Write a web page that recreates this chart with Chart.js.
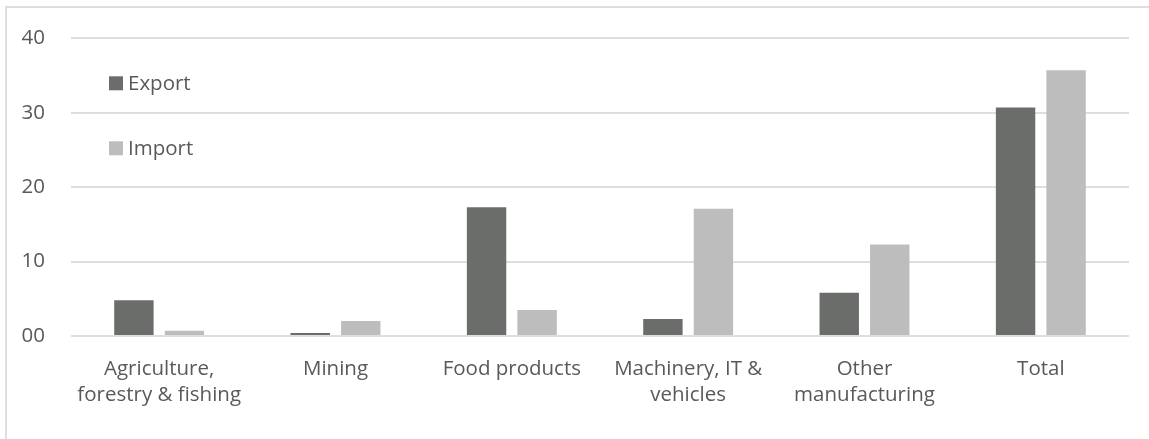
<!DOCTYPE html>
<html lang="en">
<head>
  <meta charset="UTF-8">
  <title>Export and import by sector</title>
  <script src="https://cdn.jsdelivr.net/npm/chart.js"></script>
  <style>
    html, body {
      margin: 0;
      padding: 0;
      overflow: hidden;
      background: #fff;
    }

    .frame {
      position: absolute;
      left: 5px;
      top: 6px;
      width: 1180px;
      height: 470px;
      border: 2px solid #dedede;
      box-sizing: border-box;
    }

    .wrap {
      position: absolute;
      left: 0;
      top: 0;
      width: 1149px;
      height: 439px;
    }
  </style>
</head>
<body>
  <div class="frame"></div>
  <div class="wrap">
    <canvas id="tradeChart"></canvas>
  </div>

  <script>
    const categories = [
      ['Agriculture,', 'forestry & fishing'],
      'Mining',
      'Food products',
      ['Machinery, IT &', 'vehicles'],
      ['Other', 'manufacturing'],
      'Total'
    ];
    const exportValues = [4.8, 0.4, 17.3, 2.3, 5.8, 30.7];
    const importValues = [0.7, 2.0, 3.5, 17.1, 12.3, 35.7];
    const yTickLabels = ['00', '10', '20', '30', '40'];

    const textColor = '#595959';
    const fontFamily = "'Open Sans', sans-serif";

    // legend sits inside the plot, stacked vertically at the top left
    const innerLegend = {
      id: 'innerLegend',
      afterDraw(chart) {
        const ctx = chart.ctx;
        const area = chart.chartArea;
        ctx.save();
        ctx.font = '20.5px ' + fontFamily;
        ctx.textBaseline = 'middle';
        chart.data.datasets.forEach((ds, i) => {
          const x = area.left + 38;
          const y = area.top + 45 + i * 65;
          ctx.fillStyle = ds.backgroundColor;
          ctx.fillRect(x, y - 7, 14, 14);
          ctx.fillStyle = textColor;
          ctx.fillText(ds.label, x + 19, y + 1);
        });
        ctx.restore();
      }
    };

    const ctx = document.getElementById('tradeChart').getContext('2d');

    new Chart(ctx, {
      type: 'bar',
      data: {
        labels: categories,
        datasets: [
          {
            label: 'Export',
            data: exportValues,
            backgroundColor: '#6b6d6b',
            categoryPercentage: 0.573,
            barPercentage: 0.78
          },
          {
            label: 'Import',
            data: importValues,
            backgroundColor: '#bdbdbd',
            categoryPercentage: 0.573,
            barPercentage: 0.78
          }
        ]
      },
      options: {
        responsive: true,
        maintainAspectRatio: false,
        animation: false,
        layout: {
          padding: { top: 37, right: 20, bottom: 0, left: 0 }
        },
        scales: {
          x: {
            grid: { display: false },
            border: { display: false },
            ticks: {
              color: textColor,
              padding: 12,
              maxRotation: 0,
              autoSkip: false,
              font: { family: fontFamily, size: 20.5, lineHeight: 1.27 }
            },
            afterFit(scale) {
              scale.height = 103;
            }
          },
          y: {
            min: 0,
            max: 40,
            border: { display: false },
            grid: {
              color: '#dedede',
              lineWidth: 2,
              drawTicks: false
            },
            ticks: {
              stepSize: 10,
              color: textColor,
              padding: 26,
              font: { family: fontFamily, size: 20.5 },
              callback: (value, index) => yTickLabels[index]
            },
            afterFit(scale) {
              scale.width = 71;
            }
          }
        },
        plugins: {
          legend: { display: false },
          tooltip: { enabled: false }
        }
      },
      plugins: [innerLegend]
    });
  </script>
</body>
</html>
